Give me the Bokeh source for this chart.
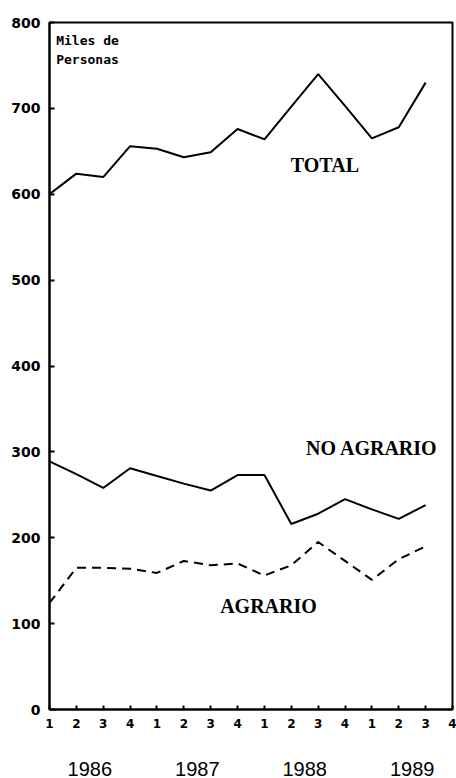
from bokeh.plotting import figure
from bokeh.models import LinearAxis, FixedTicker, Label, Range1d
from bokeh.embed import file_html
from bokeh.resources import INLINE

# ---- data ----
quarter_labels = ["1", "2", "3", "4"] * 4
years = ["1986", "1987", "1988", "1989"]
y_ticks = [0, 100, 200, 300, 400, 500, 600, 700, 800]

total = [600, 624, 620, 656, 653, 643, 649, 676, 664, 702, 740, 703, 665, 678, 730]
no_agrario = [289, 274, 258, 281, 272, 263, 255, 273, 273, 216, 228, 245, 233, 222, 238]
agrario = [124, 165, 165, 164, 159, 173, 168, 170, 156, 168, 195, 173, 151, 175, 190]

xs = list(range(len(total)))
n_q = len(quarter_labels)

p = figure(width=456, height=778, output_backend="svg", toolbar_location=None,
           x_range=Range1d(0, n_q - 1), y_range=Range1d(0, 800),
           min_border_left=49, min_border_right=4, min_border_top=22, min_border_bottom=0)
p.background_fill_color = "white"
p.border_fill_color = "white"
p.outline_line_color = "black"
p.outline_line_width = 2
p.xgrid.visible = False
p.ygrid.visible = False

# x axis (quarters)
xa = p.xaxis[0]
xa.ticker = FixedTicker(ticks=list(range(n_q)))
xa.major_label_overrides = {i: lab for i, lab in enumerate(quarter_labels)}
xa.major_tick_in = 4
xa.major_tick_out = 0
xa.minor_tick_line_color = None
xa.axis_line_width = 2
xa.major_tick_line_width = 2
xa.major_label_standoff = 9
xa.major_label_text_font = "DejaVu Sans"
xa.major_label_text_font_style = "bold"
xa.major_label_text_font_size = "12px"
xa.major_label_text_color = "black"

# year axis
ya2 = LinearAxis(ticker=FixedTicker(ticks=[1.5 + 4 * i for i in range(len(years))]),
                 major_label_overrides={1.5 + 4 * i: y for i, y in enumerate(years)})
ya2.axis_line_color = None
ya2.major_tick_line_color = None
ya2.minor_tick_line_color = None
ya2.major_label_standoff = 25
ya2.major_label_text_font = "Liberation Sans"
ya2.major_label_text_font_size = "20px"
ya2.major_label_text_color = "black"
p.add_layout(ya2, "below")

# y axis
ya = p.yaxis[0]
ya.ticker = FixedTicker(ticks=y_ticks)
ya.major_tick_in = 5
ya.major_tick_out = 0
ya.minor_tick_line_color = None
ya.axis_line_width = 2
ya.major_tick_line_width = 2
ya.major_label_standoff = 9
ya.major_label_text_font = "DejaVu Sans"
ya.major_label_text_font_style = "bold"
ya.major_label_text_font_size = "14px"
ya.major_label_text_color = "black"

# lines
p.line(xs, total, line_color="black", line_width=2)
p.line(xs, no_agrario, line_color="black", line_width=2)
p.line(xs, agrario, line_color="black", line_width=2, line_dash="9 6")

# labels
lab_font = "Liberation Serif"
p.add_layout(Label(x=10.25, y=634, text="TOTAL", text_font=lab_font, text_font_style="bold",
                   text_font_size="20px", text_align="center", text_baseline="middle",
                   text_color="black"))
p.add_layout(Label(x=12.0, y=304, text="NO AGRARIO", text_font=lab_font, text_font_style="bold",
                   text_font_size="20px", text_align="center", text_baseline="middle",
                   text_color="black"))
p.add_layout(Label(x=8.15, y=120, text="AGRARIO", text_font=lab_font, text_font_style="bold",
                   text_font_size="20px", text_align="center", text_baseline="middle",
                   text_color="black"))
p.add_layout(Label(x=0.25, y=788, text="Miles de\nPersonas", text_font="DejaVu Sans Mono",
                   text_font_style="bold", text_font_size="13px", text_align="left",
                   text_baseline="top", text_line_height=1.25, text_color="black"))

open("out.html", "w").write(file_html(p, INLINE))
